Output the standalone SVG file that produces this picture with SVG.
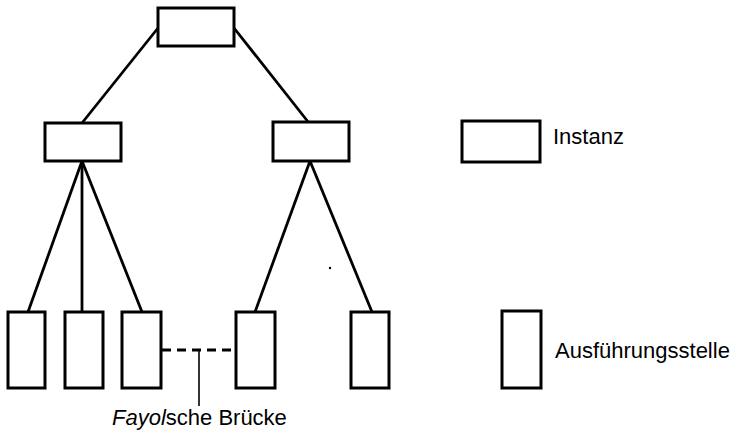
<svg xmlns="http://www.w3.org/2000/svg" width="735" height="434" viewBox="0 0 735 434">
  <style>
    .box { fill: #fff; stroke: #000; stroke-width: 3; }
    .edge { stroke: #000; stroke-width: 2.8; fill: none; }
    .dash { stroke: #000; stroke-width: 2.8; stroke-dasharray: 9 6; fill: none; }
    .tick { stroke: #000; stroke-width: 1.6; fill: none; }
    text { font-family: "Liberation Sans", Arial, sans-serif; font-size: 22px; fill: #000; }
  </style>
  <rect width="735" height="434" fill="#fff"/>

  <g id="connectors">
    <line class="edge" x1="158" y1="28" x2="82" y2="123"/>
    <line class="edge" x1="234" y1="28" x2="309" y2="123"/>
    <line class="edge" x1="82" y1="161" x2="28" y2="312"/>
    <line class="edge" x1="82" y1="161" x2="82" y2="312"/>
    <line class="edge" x1="82" y1="161" x2="142" y2="312"/>
    <line class="edge" x1="310" y1="161" x2="255" y2="312"/>
    <line class="edge" x1="310" y1="161" x2="372" y2="312"/>
    <line class="dash" x1="162" y1="350" x2="236" y2="350"/>
    <line class="tick" x1="199" y1="350" x2="199" y2="406"/>
  </g>

  <g id="root"><rect class="box" x="158" y="8" width="76" height="38"/></g>
  <g id="mid-left"><rect class="box" x="45" y="123" width="76" height="38"/></g>
  <g id="mid-right"><rect class="box" x="273" y="122" width="76" height="39"/></g>

  <g id="leaf-1"><rect class="box" x="8" y="312" width="37" height="76"/></g>
  <g id="leaf-2"><rect class="box" x="65" y="312" width="38" height="76"/></g>
  <g id="leaf-3"><rect class="box" x="122" y="312" width="39" height="76"/></g>
  <g id="leaf-4"><rect class="box" x="236" y="312" width="39" height="76"/></g>
  <g id="leaf-5"><rect class="box" x="351" y="312" width="38" height="76"/></g>

  <g id="bridge-label">
    <text x="112" y="425"><tspan font-style="italic">Fayol</tspan>sche Brücke</text>
  </g>

  <circle cx="330" cy="268" r="1.2" fill="#000"/>

  <g id="legend-instanz">
    <rect class="box" x="462" y="121" width="78" height="41"/>
    <text x="553" y="144">Instanz</text>
  </g>
  <g id="legend-ausfuehrung">
    <rect class="box" x="502" y="311" width="39" height="77"/>
    <text x="555" y="358">Ausführungsstelle</text>
  </g>
</svg>
